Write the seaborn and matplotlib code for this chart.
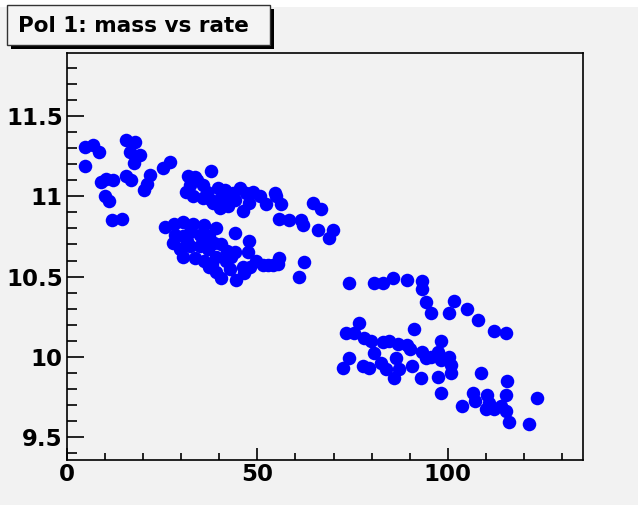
import seaborn as sns
import pandas as pd
import matplotlib.pyplot as plt
from matplotlib.patches import Rectangle
from matplotlib.ticker import MultipleLocator

# values, grouped by blob
x_topleft = [4.8, 6.9, 8.3, 4.7, 8.8, 10.3, 12.0, 9.9, 11.0, 11.8, 14.4, 15.6, 17.9,
             16.5, 19.2, 17.7, 15.6, 16.7, 20.3, 21.0, 21.8, 25.1, 27.1]
y_topleft = [11.31, 11.32, 11.28, 11.19, 11.09, 11.11, 11.10, 11.0, 10.97, 10.855, 10.86,
             11.355, 11.34, 11.275, 11.26, 11.21, 11.125, 11.10, 11.04, 11.08, 11.135,
             11.18, 11.215]

x_upper = [37.8, 31.7, 33.6, 34.1, 32.2, 35.8, 31.2, 33.0, 35.7, 37.8, 39.6, 40.4, 38.3,
           40.1, 42.3, 42.7, 43.7, 45.3, 47.1, 48.8, 47.9, 46.2, 50.6, 52.3, 54.5, 55.0,
           56.2, 55.8, 58.4, 61.4, 62.0, 64.5, 66.8, 65.8, 69.8, 68.9, 44.0, 41.5, 36.8]
y_upper = [11.16, 11.125, 11.12, 11.1, 11.07, 11.07, 11.03, 11.0, 10.99, 10.98, 11.05,
           10.99, 10.96, 10.93, 10.94, 11.0, 11.02, 11.05, 11.02, 11.03, 10.96, 10.91,
           11.0, 10.95, 11.02, 11.0, 10.95, 10.86, 10.85, 10.85, 10.82, 10.96, 10.92,
           10.79, 10.79, 10.74, 10.98, 11.04, 11.03]

x_lower = [25.7, 28.0, 30.5, 33.1, 36.1, 39.2, 28.3, 30.5, 32.2, 34.8, 37.4, 44.0, 27.8,
           29.6, 32.2, 34.8, 37.0, 40.5, 30.5, 33.5, 36.1, 39.2, 41.8, 37.4, 39.2, 40.5,
           42.7, 44.4, 44.0, 47.9, 46.2, 47.5, 49.7, 51.4, 54.0, 55.8, 62.3, 61.0, 46.4,
           48.0, 52.8, 55.4, 31.5, 35.8, 38.5, 42.0, 38.0, 43.0]
y_lower = [10.81, 10.83, 10.84, 10.83, 10.82, 10.80, 10.76, 10.75, 10.78, 10.76, 10.75,
           10.77, 10.71, 10.67, 10.69, 10.69, 10.67, 10.70, 10.625, 10.615, 10.60, 10.625,
           10.60, 10.56, 10.53, 10.49, 10.55, 10.48, 10.65, 10.72, 10.56, 10.65, 10.60,
           10.57, 10.57, 10.615, 10.59, 10.50, 10.52, 10.56, 10.57, 10.58, 10.72, 10.72,
           10.71, 10.66, 10.58, 10.62]

x_arc = [74.0, 80.7, 82.9, 85.5, 89.4, 93.2, 93.2, 94.4, 95.7, 100.2, 101.6, 105.1,
         108.0, 112.1, 115.2, 91.2]
y_arc = [10.46, 10.46, 10.46, 10.49, 10.48, 10.47, 10.42, 10.34, 10.275, 10.27, 10.35,
         10.30, 10.23, 10.16, 10.15, 10.17]

x_mid = [76.8, 73.3, 75.4, 78.1, 79.8, 82.9, 84.6, 86.8, 89.4, 98.2, 80.7, 74.1, 72.4,
         77.6, 79.4, 82.4, 83.7, 86.4, 85.9, 87.2, 90.7, 93.3, 94.2, 97.3, 98.2, 100.3,
         100.8, 100.8, 92.9, 97.3, 90.0, 95.5]
y_mid = [10.21, 10.145, 10.15, 10.115, 10.10, 10.09, 10.10, 10.08, 10.07, 10.10, 10.02,
         9.99, 9.93, 9.94, 9.93, 9.96, 9.92, 9.99, 9.865, 9.92, 9.94, 10.03, 9.99, 10.03,
         9.98, 10.0, 9.95, 9.90, 9.865, 9.875, 10.05, 10.0]

x_tail = [108.6, 115.6, 115.4, 123.5, 121.3, 116.1, 98.2, 103.7, 106.6, 107.2, 110.4,
          110.8, 110.0, 112.1, 113.9, 115.2]
y_tail = [9.90, 9.85, 9.76, 9.74, 9.58, 9.59, 9.77, 9.69, 9.77, 9.72, 9.76, 9.71, 9.67,
          9.67, 9.69, 9.66]

df = pd.DataFrame({
    'rate': x_topleft + x_upper + x_lower + x_arc + x_mid + x_tail,
    'mass': y_topleft + y_upper + y_lower + y_arc + y_mid + y_tail,
})

plt.rcParams['font.family'] = ['DejaVu Sans']
bg = '#f2f2f2'

fig = plt.figure(figsize=(6.38, 5.07), dpi=100, facecolor='white')
fig.patches.append(Rectangle((0, 2 / 507), 1, 1 - 9 / 507, transform=fig.transFigure,
                             facecolor=bg, edgecolor='none', zorder=-10))
ax = fig.add_axes([67 / 638, 1 - 460 / 507, (583 - 67) / 638, (460 - 53) / 507])
ax.set_facecolor(bg)

sns.scatterplot(data=df, x='rate', y='mass', ax=ax, s=95, color='#0000ff',
                linewidth=0, legend=False)

ax.set_xlim(0, 135.5)
ax.set_ylim(9.354, 11.896)
ax.set_xlabel('')
ax.set_ylabel('')

ax.xaxis.set_major_locator(MultipleLocator(50))
ax.xaxis.set_minor_locator(MultipleLocator(10))
ax.yaxis.set_major_locator(MultipleLocator(0.5))
ax.yaxis.set_minor_locator(MultipleLocator(0.1))
ax.yaxis.set_major_formatter(plt.FuncFormatter(lambda v, p: f'{v:g}'))

ax.tick_params(axis='both', which='both', direction='in', color='black', width=1.2)
ax.tick_params(axis='x', which='major', length=9, pad=2)
ax.tick_params(axis='x', which='minor', length=5)
ax.tick_params(axis='y', which='major', length=12, pad=3)
ax.tick_params(axis='y', which='minor', length=7)
for lab in ax.get_xticklabels() + ax.get_yticklabels():
    lab.set_fontsize(16.5)
    lab.set_fontweight('bold')

for sp in ax.spines.values():
    sp.set_color('black')
    sp.set_linewidth(1.2)

# title box with ROOT style shadow
fig.patches.append(Rectangle((11 / 638, 1 - 49 / 507), 263 / 638, 40 / 507,
                             transform=fig.transFigure, facecolor='black',
                             edgecolor='none', zorder=5))
fig.patches.append(Rectangle((7 / 638, 1 - 45 / 507), 263 / 638, 40 / 507,
                             transform=fig.transFigure, facecolor='#f4f4f4',
                             edgecolor='#333333', linewidth=1, zorder=6))
fig.text(18 / 638, 1 - 26 / 507, 'Pol 1: mass vs rate', fontsize=15.5,
         fontweight='bold', va='center', ha='left', zorder=7)

plt.savefig('out.png', dpi=100, facecolor=fig.get_facecolor())
plt.close()
